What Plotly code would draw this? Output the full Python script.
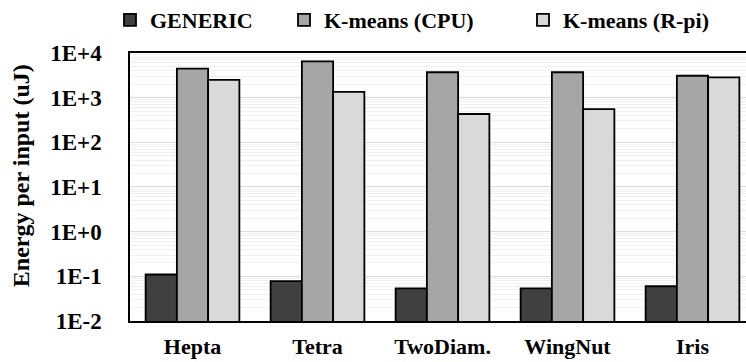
import plotly.graph_objects as go

categories = ["Hepta", "Tetra", "TwoDiam.", "WingNut", "Iris"]
generic = [0.11, 0.078, 0.054, 0.054, 0.060]
kmeans_cpu = [4470, 6460, 3700, 3700, 3090]
kmeans_rpi = [2500, 1350, 430, 555, 2830]
series_names = ["GENERIC", "K-means (CPU)", "K-means (R-pi)"]
tick_vals = [1e-2, 1e-1, 1e0, 1e1, 1e2, 1e3, 1e4]
tick_text = ["1E-2", "1E-1", "1E+0", "1E+1", "1E+2", "1E+3", "1E+4"]

colors = ["#404040", "#a6a6a6", "#d9d9d9"]
FONT = "Liberation Serif"
W, H = 746, 362
L, R, T, B = 130, 0, 49, 41

def fnt(size):
    return dict(family=FONT, size=size, color="black", weight="bold")

fig = go.Figure()
legends = ["legend", "legend2", "legend3"]
for name, vals, col, lg in zip(series_names, [generic, kmeans_cpu, kmeans_rpi], colors, legends):
    fig.add_trace(go.Bar(
        x=categories, y=vals, name=name, legend=lg, showlegend=True,
        marker=dict(color=col, line=dict(color="black", width=1.8)),
    ))

leg_common = dict(orientation="h", xref="container", yref="container",
                  yanchor="middle", xanchor="left", bgcolor="rgba(0,0,0,0)",
                  font=fnt(22), itemwidth=30)
leg_x = [110, 284, 523]
fig.update_layout(
    width=W, height=H,
    margin=dict(l=L, r=R, t=T, b=B),
    paper_bgcolor="white", plot_bgcolor="white",
    barmode="group", bargap=0.25, bargroupgap=0,
    font=fnt(22),
    showlegend=True,
    legend=dict(**leg_common, x=leg_x[0] / W, y=1 - 20 / H),
    legend2=dict(**leg_common, x=leg_x[1] / W, y=1 - 20 / H),
    legend3=dict(**leg_common, x=leg_x[2] / W, y=1 - 20 / H),
)

fig.update_xaxes(
    range=[-0.5, 4.428],
    showline=True, linecolor="black", linewidth=2, mirror=True,
    ticks="", showgrid=False,
    tickfont=fnt(22),
    ticklabelstandoff=5,
)
fig.update_yaxes(
    type="log", range=[-2, 4],
    tickvals=tick_vals, ticktext=tick_text,
    showline=True, linecolor="black", linewidth=1.5,
    showgrid=True, gridcolor="#dcdcdc", gridwidth=1,
    minor=dict(showgrid=True, gridcolor="#f0f0f0", gridwidth=1, dtick="D1"),
    ticks="", zeroline=False,
    tickfont=fnt(23),
    ticklabelstandoff=22,
)

fig.add_annotation(
    text="Energy per input (uJ)", textangle=-90,
    xref="paper", yref="paper",
    x=(21 - L) / (W - L - R), y=(H - B - 174) / (H - T - B),
    xanchor="center", yanchor="middle", showarrow=False,
    font=fnt(24),
)

fig.write_html("out.html")
